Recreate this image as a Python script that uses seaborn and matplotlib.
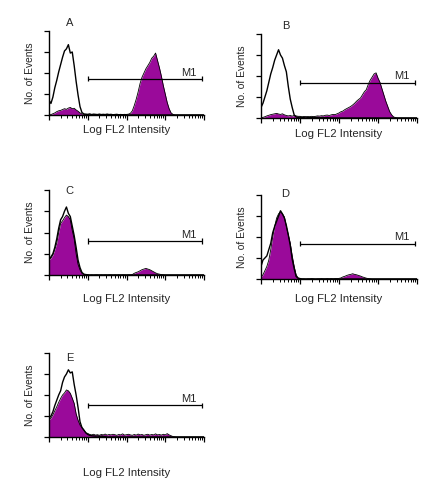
import numpy as np
import matplotlib
matplotlib.use("Agg")
import matplotlib.pyplot as plt
from matplotlib.ticker import LogLocator, NullFormatter, FixedLocator
import seaborn as sns

# ---------------- data ----------------
# log-decade channel grid (0 .. 4 decades, step 0.05)
log_decade = np.round(np.linspace(0.0, 4.0, 81), 2)

panels = ["A", "B", "C", "D", "E"]

ctrl_A = [0.70,0.55,0.85,1.30,1.65,2.05,2.40,2.75,3.05,3.15,
          3.35,2.95,3.00,2.35,1.60,0.95,0.40,0.12,0.05,0.04,
          0.03,0.05,0.02,0.04,0.03,0.02,0.04,0.02,0.03,0.02,
          0.04,0.02,0.03,0.01,0.02,0.03,0.01,0.02,0.01,0.02,
          0.01,0,0,0,0,0,0,0,0,0,
          0,0,0,0,0,0,0,0,0,0,
          0,0,0,0,0,0,0,0,0,0,
          0,0,0,0,0,0,0,0,0,0,
          0]
stain_A = [0.00,0.02,0.06,0.10,0.16,0.20,0.22,0.26,0.30,0.27,
           0.33,0.36,0.30,0.32,0.24,0.18,0.10,0.05,0.03,0.02,
           0.02,0.01,0.02,0.01,0.01,0.02,0.01,0.02,0.01,0.01,
           0.02,0.01,0.01,0.02,0.01,0.02,0.01,0.01,0.02,0.02,
           0.03,0.04,0.08,0.20,0.45,0.75,1.10,1.50,1.80,2.00,
           2.20,2.35,2.50,2.70,2.80,2.95,2.60,2.25,1.85,1.40,
           1.00,0.60,0.30,0.10,0.03,0,0,0,0,0,
           0,0,0,0,0,0,0,0,0,0,
           0]

ctrl_B = [0.50,0.70,1.00,1.30,1.70,2.10,2.40,2.75,3.00,3.25,
          3.00,2.85,2.50,2.20,1.50,0.90,0.50,0.15,0.05,0.03,
          0.04,0.02,0.03,0.05,0.02,0.03,0.02,0.04,0.02,0.03,
          0.01,0.02,0.02,0.01,0.02,0.01,0,0,0,0,
          0,0,0,0,0,0,0,0,0,0,
          0,0,0,0,0,0,0,0,0,0,
          0,0,0,0,0,0,0,0,0,0,
          0,0,0,0,0,0,0,0,0,0,
          0]
stain_B = [0.00,0.03,0.06,0.10,0.13,0.16,0.18,0.20,0.22,0.19,
           0.17,0.20,0.15,0.12,0.10,0.12,0.09,0.12,0.10,0.08,
           0.08,0.06,0.07,0.05,0.07,0.06,0.08,0.06,0.08,0.10,
           0.09,0.11,0.10,0.13,0.14,0.12,0.15,0.17,0.16,0.20,
           0.24,0.30,0.33,0.40,0.45,0.50,0.55,0.62,0.70,0.80,
           0.88,0.95,1.10,1.25,1.35,1.60,1.80,1.95,2.10,2.15,
           1.90,1.70,1.40,1.10,0.80,0.55,0.30,0.15,0.05,0.02,
           0,0,0,0,0,0,0,0,0,0,
           0]

ctrl_C = [0.75,0.85,1.00,1.30,1.70,2.20,2.60,2.75,3.00,3.20,
          2.90,2.75,2.30,1.85,1.30,0.70,0.35,0.12,0.04,0.02,
          0.01,0,0,0,0,0,0,0,0,0,
          0,0,0,0,0,0,0,0,0,0,
          0,0,0,0,0,0,0,0,0,0,
          0,0,0,0,0,0,0,0,0,0,
          0,0,0,0,0,0,0,0,0,0,
          0,0,0,0,0,0,0,0,0,0,
          0]
stain_C = [0.70,0.80,0.94,1.20,1.50,2.00,2.43,2.55,2.70,2.82,
           2.75,2.60,2.10,1.70,1.00,0.50,0.24,0.08,0.02,0.01,
           0.01,0,0.01,0,0.01,0.01,0,0.01,0,0.01,
           0,0.01,0.01,0,0.01,0,0.01,0,0.01,0.01,
           0,0.01,0.01,0.02,0.08,0.12,0.15,0.20,0.25,0.28,
           0.31,0.28,0.25,0.20,0.15,0.10,0.06,0.04,0.02,0.01,
           0,0,0,0,0,0,0,0,0,0,
           0,0,0,0,0,0,0,0,0,0,
           0]

ctrl_D = [0.60,0.90,1.00,1.10,1.40,1.70,2.20,2.50,2.75,3.00,
          3.25,3.10,2.90,2.55,2.10,1.60,0.95,0.50,0.12,0.04,
          0.02,0,0,0,0,0,0,0,0,0,
          0,0,0,0,0,0,0,0,0,0,
          0,0,0,0,0,0,0,0,0,0,
          0,0,0,0,0,0,0,0,0,0,
          0,0,0,0,0,0,0,0,0,0,
          0,0,0,0,0,0,0,0,0,0,
          0]
stain_D = [0.10,0.20,0.40,0.60,0.90,1.40,2.00,2.50,2.90,3.10,
           3.20,3.10,2.95,2.50,2.10,1.70,1.10,0.60,0.20,0.05,
           0.02,0.01,0.01,0,0.01,0.01,0.02,0.01,0,0.01,
           0.01,0.02,0.01,0.01,0.02,0.01,0.02,0.01,0.02,0.02,
           0.03,0.05,0.10,0.13,0.17,0.20,0.22,0.25,0.22,0.20,
           0.17,0.14,0.10,0.07,0.04,0.02,0.01,0,0,0,
           0,0,0,0,0,0,0,0,0,0,
           0,0,0,0,0,0,0,0,0,0,
           0]

ctrl_E = [0.89,1.00,1.20,1.50,1.75,2.00,2.20,2.60,2.86,3.00,
          3.20,3.05,3.10,2.50,2.00,1.40,0.73,0.45,0.33,0.20,
          0.12,0.08,0.06,0.05,0.04,0.05,0.03,0.04,0.03,0.02,
          0,0,0,0,0,0,0,0,0,0,
          0,0,0,0,0,0,0,0,0,0,
          0,0,0,0,0,0,0,0,0,0,
          0,0,0,0,0,0,0,0,0,0,
          0,0,0,0,0,0,0,0,0,0,
          0]
stain_E = [0.80,0.90,1.05,1.25,1.44,1.65,1.84,2.00,2.10,2.24,
           2.20,2.08,1.85,1.60,1.10,0.80,0.57,0.45,0.33,0.20,
           0.17,0.12,0.10,0.13,0.09,0.11,0.08,0.12,0.10,0.14,
           0.09,0.12,0.10,0.13,0.11,0.08,0.12,0.10,0.15,0.09,
           0.11,0.13,0.10,0.08,0.12,0.09,0.14,0.10,0.12,0.08,
           0.11,0.13,0.09,0.12,0.10,0.15,0.10,0.12,0.09,0.13,
           0.10,0.16,0.10,0.06,0.02,0.01,0,0,0,0,
           0,0,0,0,0,0,0,0,0,0,
           0]

controls = [ctrl_A, ctrl_B, ctrl_C, ctrl_D, ctrl_E]
stained = [stain_A, stain_B, stain_C, stain_D, stain_E]

# marker M1 gate (log decades) and its height (count units)
m1_start = [1.0, 1.0, 1.0, 1.0, 1.0]
m1_end = [3.94, 3.94, 3.94, 3.94, 3.94]
m1_level = [1.72, 1.68, 1.60, 1.68, 1.52]

# ---------------- style ----------------
sns.set_style("ticks")
plt.rcParams["font.family"] = ["Liberation Sans", "DejaVu Sans"]

PURPLE = "#9a0a9a"
W, H = 427, 480
fig = plt.figure(figsize=(W / 100, H / 100), dpi=100)

# axes boxes in pixels: left, right, top, bottom
boxes = [(49, 204, 31, 115), (261, 417, 34, 118), (49, 204, 190, 275),
         (261, 417, 195, 279), (49, 204, 353, 437)]
title_pos = [(0.54, 1.10), (0.64, 1.10), (0.54, 0.99), (0.62, 1.01), (0.54, 0.94)]
xlabel_pad = [0, 0.8, 7, 4, 15]

x_vals = 10 ** log_decade

for k, name in enumerate(panels):
    l, r, t, b = boxes[k]
    ax = fig.add_axes([l / W, 1 - b / H, (r - l) / W, (b - t) / H])
    ax.fill_between(x_vals, stained[k], 0, color=PURPLE, linewidth=0)
    sns.lineplot(x=x_vals, y=stained[k], ax=ax, color="black", linewidth=0.6,
                 estimator=None, sort=False)
    sns.lineplot(x=x_vals, y=controls[k], ax=ax, color="black", linewidth=1.0,
                 estimator=None, sort=False)
    ax.set_xscale("log")
    ax.set_xlim(1, 1e4)
    ax.set_ylim(0, 4)
    ax.yaxis.set_major_locator(FixedLocator([0, 1, 2, 3, 4]))
    ax.xaxis.set_major_locator(LogLocator(base=10, numticks=10))
    ax.xaxis.set_minor_locator(LogLocator(base=10, subs=np.arange(2, 10), numticks=20))
    ax.xaxis.set_major_formatter(NullFormatter())
    ax.xaxis.set_minor_formatter(NullFormatter())
    ax.yaxis.set_major_formatter(NullFormatter())
    ax.tick_params(axis="both", which="major", direction="out", length=3.5, width=0.9, color="black")
    ax.tick_params(axis="x", which="minor", direction="out", length=2, width=0.7, color="black")
    for s in ["top", "right"]:
        ax.spines[s].set_visible(False)
    for s in ["left", "bottom"]:
        ax.spines[s].set_linewidth(1.0)
        ax.spines[s].set_color("black")
    ax.set_facecolor("none")
    ax.set_xlabel("Log FL2 Intensity", fontsize=8.2, labelpad=xlabel_pad[k])
    ax.set_ylabel("No. of Events", fontsize=7.4, labelpad=3)
    # gate marker
    x0, x1 = 10 ** m1_start[k], 10 ** m1_end[k]
    yl = m1_level[k]
    ax.hlines(yl, x0, x1, color="black", linewidth=0.9)
    ax.vlines([x0, x1], yl - 0.12, yl + 0.12, color="black", linewidth=0.9)
    ax.text(10 ** 3.62, yl + 0.3, "M1", fontsize=8, ha="center", va="center")
    tx, ty = title_pos[k]
    ax.text(10 ** tx, ty, name, fontsize=8, ha="center", va="center",
            transform=ax.get_xaxis_transform())

fig.savefig("out.png", dpi=100, facecolor="white")
